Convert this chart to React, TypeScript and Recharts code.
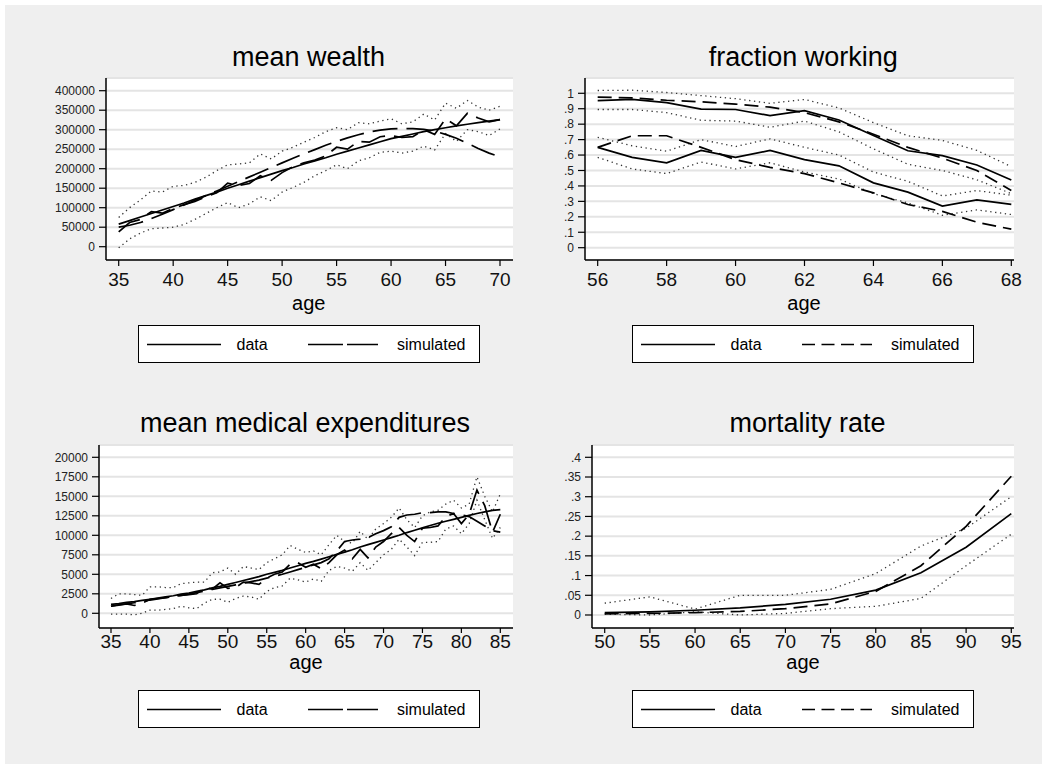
import React from 'react';
import { LineChart, Line, XAxis, YAxis, CartesianGrid } from 'recharts';

const FONT = '"Liberation Sans", Arial, Helvetica, sans-serif';

// mean wealth, ages 35-70
const wealthAges = [35, 36, 37, 38, 39, 40, 41, 42, 43, 44, 45, 46, 47, 48, 49, 50, 51, 52, 53, 54, 55, 56, 57, 58, 59, 60, 61, 62, 63, 64, 65, 66, 67, 68, 69, 70];
const wealthFit = [58000, 67000, 76000, 85000, 94000, 103000, 112000, 122000, 131000, 140000, 150000, 159000, 168000, 177000, 186000, 195000, 203000, 212000, 220000, 228000, 237000, 245000, 253000, 261000, 269000, 277000, 283000, 289000, 295000, 300000, 305000, 310000, 314000, 318000, 322000, 326000];
const wealthRaw = [38000, 62000, 70000, 90000, 86000, 98000, 108000, 116000, 128000, 138000, 163000, 157000, 162000, 182000, 170000, 190000, 205000, 215000, 222000, 233000, 255000, 250000, 270000, 268000, 282000, 285000, 280000, 282000, 300000, 288000, 328000, 310000, 342000, 330000, 320000, 326000];
const wealthSim = [50000, 55000, 62000, 72000, 83000, 95000, 107000, 119000, 131000, 143000, 155000, 167000, 179000, 191000, 203000, 215000, 227000, 238000, 249000, 260000, 270000, 279000, 287000, 294000, 299000, 302000, 303000, 303000, 301000, 296000, 288000, 278000, 265000, 252000, 240000, 230000];
const wealthHi = [75000, 100000, 120000, 143000, 140000, 155000, 157000, 165000, 178000, 195000, 210000, 212000, 215000, 238000, 225000, 245000, 255000, 268000, 280000, 295000, 305000, 300000, 318000, 315000, 322000, 328000, 315000, 320000, 340000, 325000, 368000, 355000, 375000, 358000, 350000, 360000];
const wealthLo = [-3000, 20000, 35000, 46000, 48000, 50000, 57000, 70000, 85000, 100000, 113000, 100000, 110000, 128000, 118000, 140000, 152000, 165000, 182000, 195000, 210000, 200000, 220000, 228000, 242000, 245000, 240000, 245000, 258000, 248000, 290000, 270000, 300000, 295000, 285000, 302000];
const wealthXTicks = [35, 40, 45, 50, 55, 60, 65, 70];
const wealthYTicks = [0, 50000, 100000, 150000, 200000, 250000, 300000, 350000, 400000];

// fraction working, ages 56-68, two groups
const workAges = [56, 57, 58, 59, 60, 61, 62, 63, 64, 65, 66, 67, 68];
const workDataA = [0.952, 0.96, 0.94, 0.898, 0.895, 0.855, 0.887, 0.827, 0.726, 0.628, 0.596, 0.536, 0.438];
const workSimA = [0.975, 0.97, 0.955, 0.945, 0.93, 0.91, 0.875, 0.815, 0.735, 0.65, 0.58, 0.5, 0.37];
const workHiA = [1.018, 1.02, 1.005, 0.985, 0.965, 0.935, 0.96, 0.905, 0.81, 0.725, 0.695, 0.63, 0.525];
const workLoA = [0.895, 0.895, 0.875, 0.825, 0.82, 0.78, 0.82, 0.75, 0.64, 0.54, 0.5, 0.44, 0.35];
const workDataB = [0.65, 0.585, 0.55, 0.63, 0.585, 0.63, 0.57, 0.53, 0.42, 0.36, 0.27, 0.31, 0.28];
const workSimB = [0.65, 0.725, 0.725, 0.65, 0.57, 0.52, 0.48, 0.42, 0.355, 0.28, 0.235, 0.165, 0.12];
const workHiB = [0.715, 0.66, 0.625, 0.7, 0.655, 0.705, 0.65, 0.6, 0.49, 0.43, 0.335, 0.37, 0.34];
const workLoB = [0.585, 0.51, 0.48, 0.555, 0.51, 0.55, 0.49, 0.445, 0.35, 0.29, 0.21, 0.245, 0.215];
const workXTicks = [56, 58, 60, 62, 64, 66, 68];
const workYTicks = [0, 0.1, 0.2, 0.3, 0.4, 0.5, 0.6, 0.7, 0.8, 0.9, 1];

// mean medical expenditures, ages 35-85
const medAges = [35, 36, 37, 38, 39, 40, 41, 42, 43, 44, 45, 46, 47, 48, 49, 50, 51, 52, 53, 54, 55, 56, 57, 58, 59, 60, 61, 62, 63, 64, 65, 66, 67, 68, 69, 70, 71, 72, 73, 74, 75, 76, 77, 78, 79, 80, 81, 82, 83, 84, 85];
const medFit = [1150, 1250, 1400, 1500, 1650, 1800, 1950, 2100, 2250, 2450, 2600, 2800, 3000, 3250, 3450, 3700, 3950, 4200, 4450, 4700, 5000, 5250, 5500, 5800, 6100, 6400, 6650, 6950, 7250, 7550, 7850, 8150, 8500, 8800, 9100, 9400, 9700, 10000, 10350, 10650, 10950, 11250, 11550, 11800, 12050, 12300, 12550, 12800, 13000, 13200, 13300];
const medSim = [900, 1050, 1200, 1350, 1500, 1700, 1850, 2000, 2150, 2300, 2450, 2650, 2850, 3050, 3250, 3450, 3650, 3850, 4050, 4250, 4500, 4750, 5000, 5300, 5600, 5900, 6200, 6500, 7000, 8000, 9200, 9400, 9500, 9700, 10200, 10600, 11100, 12300, 12600, 12700, 12900, 12900, 13000, 13000, 12800, 12600, 12400, 11800, 11200, 10600, 10400];
const medRaw = [900, 1100, 1200, 1000, 1300, 1800, 1900, 2000, 2200, 2300, 2400, 2500, 3300, 3100, 3900, 3200, 3300, 4000, 3900, 3700, 4500, 5000, 5300, 6300, 6500, 5900, 6300, 5700, 6500, 7500, 8100, 7000, 8200, 7100, 8500, 9200, 10200, 11000, 10000, 9200, 10900, 11000, 11200, 12400, 12800, 11500, 12700, 15800, 13800, 10400, 12700];
const medHi = [1900, 2500, 2500, 2400, 2300, 3400, 3400, 3300, 3300, 3800, 3900, 4000, 4000, 5200, 5300, 5800, 5000, 6000, 5800, 5600, 6500, 7000, 7500, 8700, 8200, 7800, 8000, 7500, 8800, 10000, 9200, 9000, 10500, 9500, 10800, 11500, 12300, 13500, 12000, 11000, 12500, 13000, 13200, 14000, 14500, 13500, 14000, 17500, 15000, 13000, 15300];
const medLo = [-100, -100, -100, -200, 0, 400, 400, 500, 600, 900, 700, 600, 1300, 1800, 1800, 1400, 1900, 2200, 2100, 1800, 2800, 3300, 3500, 4500, 4300, 4000, 4400, 4100, 5500, 6000, 5800, 5400, 6500, 5500, 6500, 7500, 8200, 9500, 8500, 7400, 9100, 9100, 9200, 10800, 11200, 10200, 11500, 14500, 12000, 9600, 11000];
const medXTicks = [35, 40, 45, 50, 55, 60, 65, 70, 75, 80, 85];
const medYTicks = [0, 2500, 5000, 7500, 10000, 12500, 15000, 17500, 20000];

// mortality rate, ages 50-95
const mortAges = [50, 55, 60, 65, 70, 75, 80, 85, 90, 95];
const mortData = [0.006, 0.008, 0.012, 0.018, 0.027, 0.04, 0.063, 0.107, 0.172, 0.257];
const mortSim = [0.003, 0.004, 0.006, 0.009, 0.016, 0.028, 0.06, 0.125, 0.225, 0.352];
const mortHi = [0.03, 0.046, 0.015, 0.05, 0.05, 0.065, 0.105, 0.175, 0.22, 0.3];
const mortLo = [0.002, 0.0, 0.008, 0.0, 0.004, 0.016, 0.022, 0.042, 0.125, 0.205];
const mortXTicks = [50, 55, 60, 65, 70, 75, 80, 85, 90, 95];
const mortYTicks = [0, 0.05, 0.1, 0.15, 0.2, 0.25, 0.3, 0.35, 0.4];

const wealthRows = wealthAges.map((age, i) => ({
  age, fit: wealthFit[i], raw: wealthRaw[i], sim: wealthSim[i], hi: wealthHi[i], lo: wealthLo[i],
}));
const workRows = workAges.map((age, i) => ({
  age, dataA: workDataA[i], simA: workSimA[i], hiA: workHiA[i], loA: workLoA[i],
  dataB: workDataB[i], simB: workSimB[i], hiB: workHiB[i], loB: workLoB[i],
}));
const medRows = medAges.map((age, i) => ({
  age, fit: medFit[i], raw: medRaw[i], sim: medSim[i], hi: medHi[i], lo: medLo[i],
}));
const mortRows = mortAges.map((age, i) => ({
  age, data: mortData[i], sim: mortSim[i], hi: mortHi[i], lo: mortLo[i],
}));

const LONG = '25 9';
const SHORT = '14 7';
const DOTS = '1.3 3.6';

const fmtDec = (v: number) => {
  const s = String(Number(v.toFixed(3)));
  return s.replace(/^0\./, '.');
};

type Rect = { left: number; top: number; right: number; bottom: number };
type S = { key: string; dash?: string; dot?: boolean };

const Panel = ({ plot, data, series, xDomain, xTicks, yDomain, yTicks, fmt, xTickSize, xTickMargin }: {
  plot: Rect; data: any[]; series: S[]; xDomain: number[]; xTicks: number[];
  yDomain: number[]; yTicks: number[]; fmt?: (v: number) => string; xTickSize: number; xTickMargin: number;
}) => {
  const chartLeft = plot.left - 95;
  const chartTop = plot.top - 10;
  const width = plot.right - chartLeft + 10;
  const height = plot.bottom - chartTop + 45;
  return (
    <div style={{ position: 'absolute', left: chartLeft, top: chartTop }}>
      <LineChart width={width} height={height} data={data} margin={{ top: 10, right: 10, bottom: 5, left: 25 }}>
        <CartesianGrid vertical={false} stroke="#e4e4e4" strokeWidth={2} fill="#ffffff" />
        <XAxis
          type="number"
          dataKey="age"
          domain={xDomain}
          ticks={xTicks}
          interval={0}
          allowDataOverflow
          height={40}
          tickSize={xTickSize}
          tickMargin={xTickMargin}
          axisLine={{ stroke: '#000', strokeWidth: 1.5 }}
          tickLine={{ stroke: '#000', strokeWidth: 1.2 }}
          tick={{ fontSize: 19, fill: '#111', fontFamily: FONT }}
        />
        <YAxis
          type="number"
          domain={yDomain}
          ticks={yTicks}
          interval={0}
          allowDataOverflow
          width={70}
          tickSize={7}
          tickMargin={4}
          tickFormatter={fmt}
          axisLine={{ stroke: '#000', strokeWidth: 1.5 }}
          tickLine={{ stroke: '#000', strokeWidth: 1.2 }}
          tick={{ fontSize: 12, fill: '#222', fontFamily: FONT }}
        />
        {series.map((s) => (
          <Line
            key={s.key}
            dataKey={s.key}
            type="linear"
            stroke={s.dot ? '#333' : '#000'}
            strokeWidth={s.dot ? 1.3 : 1.7}
            strokeDasharray={s.dot ? DOTS : s.dash}
            dot={false}
            activeDot={false}
            isAnimationActive={false}
          />
        ))}
      </LineChart>
    </div>
  );
};

const Text = ({ text, cx, baseline, size }: { text: string; cx: number; baseline: number; size: number }) => (
  <div
    style={{
      position: 'absolute', left: cx - 200, width: 400, top: baseline - 0.8465 * size,
      fontSize: size, lineHeight: `${size}px`, textAlign: 'center', fontFamily: FONT, color: '#000',
    }}
  >
    {text}
  </div>
);

const LegendBox = ({ left, top, dash }: { left: number; top: number; dash: string }) => (
  <svg style={{ position: 'absolute', left, top }} width={342} height={38}>
    <rect x={0.5} y={0.5} width={341} height={37} fill="#fff" stroke="#000" strokeWidth={1} />
    <line x1={9} x2={83} y1={19.5} y2={19.5} stroke="#000" strokeWidth={1.5} />
    <text x={98.5} y={25} fontSize={16} fontFamily={FONT} fill="#000">data</text>
    <line x1={170} x2={240} y1={19.5} y2={19.5} stroke="#000" strokeWidth={1.5} strokeDasharray={dash} />
    <text x={259} y={25} fontSize={16} fontFamily={FONT} fill="#000">simulated</text>
  </svg>
);

export default function App() {
  return (
    <div style={{ position: 'absolute', left: 0, top: 0, width: 1047, height: 769, background: '#fff' }}>
      <div style={{ position: 'absolute', left: 5, top: 5, width: 1037, height: 759, background: '#efefef' }} />

      <Text text="mean wealth" cx={308.5} baseline={66.7} size={27} />
      <Panel
        plot={{ left: 106, top: 78, right: 513, bottom: 260 }}
        data={wealthRows}
        series={[
          { key: 'hi', dot: true }, { key: 'lo', dot: true },
          { key: 'raw', dash: LONG }, { key: 'sim', dash: LONG }, { key: 'fit' },
        ]}
        xDomain={[33.834, 71.193]}
        xTicks={wealthXTicks}
        yDomain={[-34100, 432560]}
        yTicks={wealthYTicks}
        xTickSize={6}
        xTickMargin={7}
      />
      <Text text="age" cx={308.8} baseline={310} size={20} />
      <LegendBox left={138} top={325} dash="35 4" />

      <Text text="fraction working" cx={803.3} baseline={66.5} size={27} />
      <Panel
        plot={{ left: 585, top: 78, right: 1014, bottom: 260 }}
        data={workRows}
        series={[
          { key: 'hiA', dot: true }, { key: 'loA', dot: true }, { key: 'hiB', dot: true }, { key: 'loB', dot: true },
          { key: 'simA', dash: SHORT }, { key: 'simB', dash: SHORT }, { key: 'dataA' }, { key: 'dataB' },
        ]}
        xDomain={[55.632, 68.078]}
        xTicks={workXTicks}
        yDomain={[-0.0797, 1.099]}
        yTicks={workYTicks}
        fmt={fmtDec}
        xTickSize={6}
        xTickMargin={7}
      />
      <Text text="age" cx={804} baseline={310} size={20} />
      <LegendBox left={632} top={325} dash="13 6.5" />

      <Text text="mean medical expenditures" cx={305} baseline={432.7} size={27} />
      <Panel
        plot={{ left: 99, top: 445, right: 513, bottom: 628 }}
        data={medRows}
        series={[
          { key: 'hi', dot: true }, { key: 'lo', dot: true },
          { key: 'raw', dash: LONG }, { key: 'sim', dash: LONG }, { key: 'fit' },
        ]}
        xDomain={[33.459, 86.63]}
        xTicks={medXTicks}
        yDomain={[-1885, 21577]}
        yTicks={medYTicks}
        xTickSize={5}
        xTickMargin={2}
      />
      <Text text="age" cx={306} baseline={669} size={20} />
      <LegendBox left={138} top={690} dash="35 4" />

      <Text text="mortality rate" cx={807.5} baseline={432.7} size={27} />
      <Panel
        plot={{ left: 592, top: 445, right: 1014, bottom: 628 }}
        data={mortRows}
        series={[
          { key: 'hi', dot: true }, { key: 'lo', dot: true },
          { key: 'sim', dash: SHORT }, { key: 'data' },
        ]}
        xDomain={[48.594, 95.3]}
        xTicks={mortXTicks}
        yDomain={[-0.033, 0.4312]}
        yTicks={mortYTicks}
        fmt={fmtDec}
        xTickSize={5}
        xTickMargin={2}
      />
      <Text text="age" cx={803} baseline={669} size={20} />
      <LegendBox left={632} top={690} dash="13 6.5" />
    </div>
  );
}
